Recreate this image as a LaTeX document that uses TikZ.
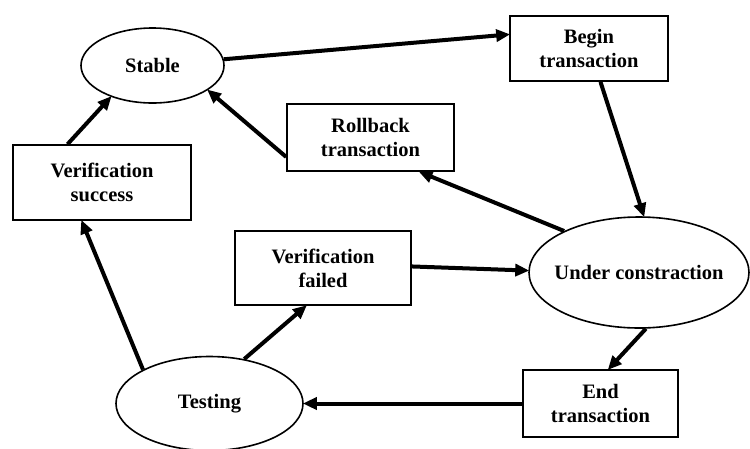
\documentclass[tikz,border=0pt]{standalone}
\usepackage{fontspec}
\setmainfont{Liberation Serif}
\usetikzlibrary{shapes.geometric,arrows.meta}
\begin{document}
\begin{tikzpicture}[x=1pt,y=-1pt,
  every node/.style={font=\fontsize{20.5}{24}\selectfont\bfseries, align=center, inner sep=0pt},
  box/.style={draw, line width=1.6pt, rectangle},
  oval/.style={draw, line width=1.6pt, ellipse},
  conn/.style={line width=4pt, -{Triangle[length=14pt,width=12pt]}, shorten >=-1pt}
]
\useasboundingbox (0,0) rectangle (750,448);
\fill[white] (0,0) rectangle (750,448);

\node[oval, minimum width=143pt, minimum height=75pt] (stable) at (152.5,65.5) {\makebox[0pt]{Stable}};
\node[box, minimum width=158pt, minimum height=65pt] (begin) at (589,48.5) {Begin\\transaction};
\node[box, minimum width=167pt, minimum height=67pt] (roll) at (370.5,137.5) {Rollback\\transaction};
\node[box, minimum width=178pt, minimum height=75pt] (vs) at (102,182.5) {Verification\\success};
\node[box, minimum width=176pt, minimum height=74pt] (vf) at (323,268) {Verification\\failed};
\node[oval, minimum width=220pt, minimum height=111pt] (under) at (639,272.5) {\makebox[0pt]{Under constraction}};
\node[box, minimum width=155pt, minimum height=67pt] (endt) at (600.5,403.5) {End\\transaction};
\node[oval, minimum width=187pt, minimum height=94pt] (test) at (209.5,403.5) {\makebox[0pt]{Testing}};

\draw[conn] (stable.5.5) -- (begin.170.8);
\draw[conn] (begin.-71.3) -- (under.85.9);
\draw[conn] (under.151.3) -- (roll.-35.2);
\draw[conn] (roll.193.3) -- (stable.-24.4);
\draw[conn] (vs.132.2) -- (stable.-143.5);
\draw[conn] (test.153.3) -- (vs.-118.1);
\draw[conn] (test.52.3) -- (vf.-114);
\draw[conn] (vf.1.3) -- (under.179.2);
\draw[conn] (under.-83.8) -- (endt.77.4);
\draw[conn] (endt.west) -- (test.east);
\end{tikzpicture}
\end{document}
